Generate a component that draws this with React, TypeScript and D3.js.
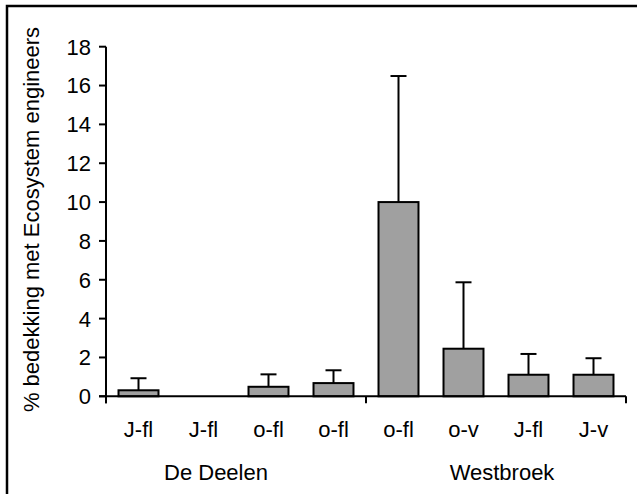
import React from "react";
import * as d3 from "d3";

const categories = ["J-fl", "J-fl", "o-fl", "o-fl", "o-fl", "o-v", "J-fl", "J-v"];
const values = [0.31, 0, 0.49, 0.68, 10.0, 2.45, 1.11, 1.11];
const errors = [0.62, 0, 0.64, 0.66, 6.49, 3.42, 1.07, 0.85];
const groups = ["De Deelen", "Westbroek"];
const groupSizes = [4, 4];
const yTicks = [0, 2, 4, 6, 8, 10, 12, 14, 16, 18];

const W = 637;
const H = 494;
const left = 106;
const right = 626;
const top = 46.7;
const bottom = 396.3;
const FS = 22;
const font = "Liberation Sans, Arial, sans-serif";

export default function App() {
  const x = d3
    .scaleBand<number>()
    .domain(categories.map((_, i) => i))
    .range([left, right])
    .paddingInner(0.385)
    .paddingOuter(0.1925);
  const y = d3.scaleLinear().domain([0, 18]).range([bottom, top]);
  const step = (right - left) / categories.length;
  const bounds: number[] = [0];
  groupSizes.forEach((s) => bounds.push(bounds[bounds.length - 1] + s));
  const groupCenters = [216, 502];

  return (
    <svg
      width={W}
      height={H}
      style={{ position: "absolute", left: 0, top: 0, background: "#fff" }}
      fontFamily={font}
    >
      <rect x={7} y={6} width={700} height={600} fill="none" stroke="#000" strokeWidth={2.5} />
      {values.map((v, i) => {
        const bx = x(i)!;
        const bw = x.bandwidth();
        const cx = bx + bw / 2;
        return (
          <g key={i}>
            {v > 0 && (
              <line x1={cx} x2={cx} y1={y(v)} y2={y(v + errors[i])} stroke="#000" strokeWidth={2} />
            )}
            {v > 0 && (
              <line x1={cx - 8} x2={cx + 8} y1={y(v + errors[i])} y2={y(v + errors[i])} stroke="#000" strokeWidth={2} />
            )}
            {v > 0 && (
              <rect x={bx} y={y(v)} width={bw} height={y(0) - y(v)} fill="#a0a0a0" stroke="#000" strokeWidth={2} />
            )}
          </g>
        );
      })}
      <line x1={left} x2={left} y1={top} y2={bottom + 7} stroke="#000" strokeWidth={2} />
      {yTicks.map((t) => (
        <g key={t}>
          <line x1={left - 7} x2={left} y1={y(t)} y2={y(t)} stroke="#000" strokeWidth={2} />
          <text x={91} y={y(t)} dy="0.36em" textAnchor="end" fontSize={FS} fill="#000">
            {t}
          </text>
        </g>
      ))}
      <line x1={left - 7} x2={right} y1={bottom} y2={bottom} stroke="#000" strokeWidth={2} />
      {bounds.map((b, i) => (
        <line key={i} x1={left + b * step} x2={left + b * step} y1={bottom} y2={bottom + 7} stroke="#000" strokeWidth={2} />
      ))}
      {categories.map((c, i) => (
        <text key={i} x={x(i)! + x.bandwidth() / 2} y={437} textAnchor="middle" fontSize={FS} fill="#000">
          {c}
        </text>
      ))}
      {groups.map((g, i) => (
        <text key={g} x={groupCenters[i]} y={480} textAnchor="middle" fontSize={FS} fill="#000">
          {g}
        </text>
      ))}
      <text
        transform={`translate(39,219.5) rotate(-90)`}
        textAnchor="middle"
        fontSize={FS}
        fill="#000"
      >
        % bedekking met Ecosystem engineers
      </text>
    </svg>
  );
}
